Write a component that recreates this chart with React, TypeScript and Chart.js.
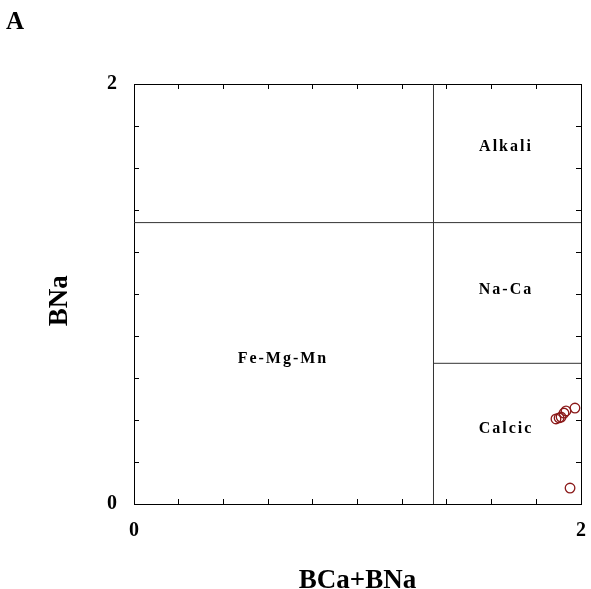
import React, { useEffect, useRef } from 'react';
import { Chart, registerables } from 'chart.js';

Chart.register(...registerables);

// Sample points (BCa+BNa, BNa)
const bcaBna = [1.888, 1.902, 1.911, 1.924, 1.933, 1.973, 1.951];
const bna = [0.405, 0.41, 0.414, 0.433, 0.443, 0.457, 0.076];

// Axis range and ticks
const axisMin = 0;
const axisMax = 2;
const tickStep = 0.2;
const shownTickLabels = [0, 2];

// Field boundaries
const divX = 1.34; // vertical divider on BCa+BNa
const divY = 1.34; // horizontal divider on BNa (Alkali / Na-Ca)
const calcicY = 0.67; // Na-Ca / Calcic divider

// Region labels
const regionNames = ['Alkali', 'Na-Ca', 'Fe-Mg-Mn', 'Calcic'];
const regionX = [1.66, 1.66, 0.662, 1.66];
const regionY = [1.7, 1.02, 0.69, 0.36];

const FONT = '"Liberation Serif", "Times New Roman", serif';

const labelPlugin = {
  id: 'regionLabels',
  afterDatasetsDraw(chart: any) {
    const { ctx, scales } = chart;
    const x = scales.x;
    const y = scales.y;
    ctx.save();
    ctx.fillStyle = '#000';
    ctx.textAlign = 'center';
    ctx.textBaseline = 'middle';
    ctx.font = `bold 16px ${FONT}`;
    (ctx as any).letterSpacing = '2px';
    regionNames.forEach((t, i) => {
      ctx.fillText(t, x.getPixelForValue(regionX[i]) + 1, y.getPixelForValue(regionY[i]));
    });
    (ctx as any).letterSpacing = '0px';
    ctx.font = `bold 25px ${FONT}`;
    ctx.textAlign = 'left';
    ctx.fillText('A', 6, 23);
    ctx.restore();
  },
};

const tickLabel = (v: any) => {
  const n = Number(v);
  const hit = shownTickLabels.find((s) => Math.abs(s - n) < 1e-9);
  return hit === undefined ? '' : String(hit);
};

export default function App() {
  const ref = useRef<HTMLCanvasElement | null>(null);

  useEffect(() => {
    document.body.style.margin = '0';
    const canvas = ref.current;
    if (!canvas) return;

    const grid = {
      display: true,
      drawOnChartArea: false,
      drawTicks: true,
      tickLength: -5,
      color: '#000',
      lineWidth: 1,
    };
    const border = { display: true, color: '#000', width: 1 };
    const tickFont = { family: FONT, size: 20, weight: 'bold' as const };
    const titleFont = { family: FONT, size: 27, weight: 'bold' as const, lineHeight: 1 };
    const noPad = (s: any) => {
      s.paddingLeft = 0;
      s.paddingRight = 0;
      s.paddingTop = 0;
      s.paddingBottom = 0;
    };

    const chart = new Chart(canvas, {
      type: 'scatter',
      data: {
        datasets: [
          {
            label: 'samples',
            data: bcaBna.map((v, i) => ({ x: v, y: bna[i] })),
            pointStyle: 'circle',
            pointRadius: 4.8,
            pointBorderWidth: 1.3,
            borderColor: '#8B1A1A',
            backgroundColor: 'rgba(0,0,0,0)',
            showLine: false,
          },
          {
            label: 'div-x',
            data: [
              { x: divX, y: axisMin },
              { x: divX, y: axisMax },
            ],
            showLine: true,
            borderColor: '#333',
            borderWidth: 1,
            pointRadius: 0,
          },
          {
            label: 'div-y',
            data: [
              { x: axisMin, y: divY },
              { x: axisMax, y: divY },
            ],
            showLine: true,
            borderColor: '#333',
            borderWidth: 1,
            pointRadius: 0,
          },
          {
            label: 'calcic',
            data: [
              { x: divX, y: calcicY },
              { x: axisMax, y: calcicY },
            ],
            showLine: true,
            borderColor: '#333',
            borderWidth: 1,
            pointRadius: 0,
          },
        ],
      },
      options: {
        animation: false,
        responsive: false,
        layout: { padding: 0 },
        plugins: {
          legend: { display: false },
          tooltip: { enabled: false },
        },
        scales: {
          x: {
            type: 'linear',
            position: 'bottom',
            min: axisMin,
            max: axisMax,
            grid,
            border,
            ticks: {
              stepSize: tickStep,
              autoSkip: false,
              maxRotation: 0,
              padding: 20,
              color: '#000',
              font: tickFont,
              callback: tickLabel,
            },
            title: {
              display: true,
              text: 'BCa+BNa',
              color: '#000',
              font: titleFont,
              padding: { top: 0, bottom: -6 },
            },
            afterFit: (s: any) => {
              s.height = 85;
              noPad(s);
            },
          },
          x2: {
            type: 'linear',
            position: 'top',
            min: axisMin,
            max: axisMax,
            grid,
            border,
            ticks: { stepSize: tickStep, display: false, autoSkip: false },
            afterFit: (s: any) => {
              s.height = 84;
              noPad(s);
            },
          },
          y: {
            type: 'linear',
            position: 'left',
            min: axisMin,
            max: axisMax,
            grid,
            border,
            ticks: {
              stepSize: tickStep,
              autoSkip: false,
              padding: 22,
              color: '#000',
              font: tickFont,
              callback: tickLabel,
            },
            title: {
              display: true,
              text: 'BNa  ',
              color: '#000',
              font: titleFont,
              padding: { top: 47, bottom: 0 },
            },
            afterFit: (s: any) => {
              s.width = 134;
              noPad(s);
            },
          },
          y2: {
            type: 'linear',
            position: 'right',
            min: axisMin,
            max: axisMax,
            grid,
            border,
            ticks: { stepSize: tickStep, display: false, autoSkip: false },
            afterFit: (s: any) => {
              s.width = 10;
              noPad(s);
            },
          },
        },
      } as any,
      plugins: [labelPlugin],
    });

    return () => chart.destroy();
  }, []);

  return (
    <canvas
      ref={ref}
      width={591}
      height={589}
      style={{ display: 'block', width: 591, height: 589, background: '#fff' }}
    />
  );
}
